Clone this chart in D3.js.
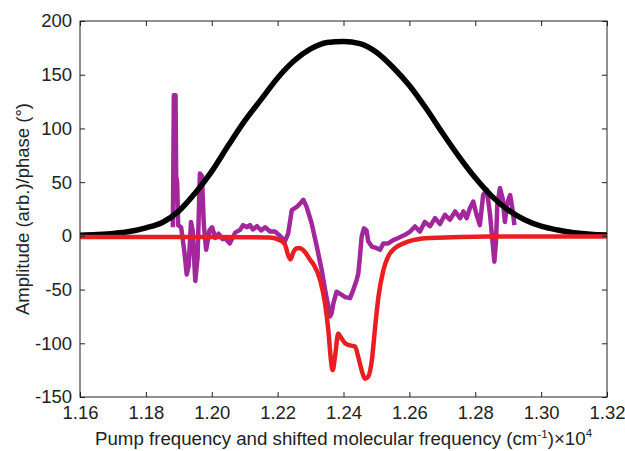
<!DOCTYPE html>
<html>
<head>
<meta charset="utf-8">
<script src="https://cdn.jsdelivr.net/npm/d3@7/dist/d3.min.js"></script>
<style>
  html, body { margin: 0; padding: 0; background: #fff; }
  svg { display: block; font-family: "Liberation Sans", Arial, Helvetica, sans-serif; }
</style>
</head>
<body>
<svg id="chart" width="625" height="451"></svg>
<script>
// ---- data ----
const xTicks = [1.16, 1.18, 1.20, 1.22, 1.24, 1.26, 1.28, 1.30, 1.32];
const yTicks = [-150, -100, -50, 0, 50, 100, 150, 200];
const xTickLabels = ["1.16", "1.18", "1.20", "1.22", "1.24", "1.26", "1.28", "1.30", "1.32"];
const yTickLabels = ["-150", "-100", "-50", "0", "50", "100", "150", "200"];

// black: pump spectrum amplitude
const blackX = [1.160,1.165,1.170,1.175,1.180,1.185,1.190,1.195,1.200,1.205,1.210,1.215,1.220,1.225,1.230,1.235,1.240,1.245,1.250,1.255,1.260,1.265,1.270,1.275,1.280,1.285,1.290,1.295,1.300,1.305,1.310,1.315,1.320];
const blackY = [0.5,1.2,2.2,4,7.5,12.5,23,40,60,84,107,127,147,163,174,180,181,179,171,157,140,119,96,74,54,37,24,15,9,5.5,3,1.5,0.8];

// purple: measured phase
const purpleX = [1.1882,1.1885,1.1890,1.1892,1.1895,1.1898,1.1907,1.1917,1.1924,1.1930,1.1937,1.1942,1.1950,1.1957,1.1964,1.1970,1.1976,1.1983,1.1993,1.2001,1.2011,1.2021,1.2033,1.2040,1.2055,1.2071,1.2086,1.2095,1.2107,1.2116,1.2125,1.2137,1.2150,1.2162,1.2177,1.2192,1.2207,1.2222,1.2232,1.2243,1.2258,1.2268,1.2278,1.2288,1.2303,1.2319,1.2334,1.2344,1.2354,1.2359,1.2364,1.2369,1.2379,1.2395,1.2405,1.2420,1.2430,1.2440,1.2445,1.2450,1.2455,1.2462,1.2470,1.2475,1.2486,1.2501,1.2511,1.2521,1.2536,1.2551,1.2566,1.2587,1.2602,1.2617,1.2632,1.2647,1.2663,1.2678,1.2693,1.2708,1.2723,1.2739,1.2754,1.2764,1.2774,1.2784,1.2794,1.2804,1.2814,1.2824,1.2835,1.2845,1.2852,1.2858,1.2863,1.2867,1.2875,1.2883,1.2890,1.2897,1.2906,1.2914,1.2919];
const purpleY = [8,131,131,55,50,10,8,-15,-36,-28,13,5,-42,-20,58,56,10,-13,5,8,-2,2,-3,-2,-7,3,5.6,10,8,10,6,9,5,8,4,4,0,-5,2,24,27,30,33.6,27,12,-10,-32,-50,-66,-75,-72,-63,-52,-55,-57,-58,-50,-41,-35,-19,-1,7,5,-5,-10,-11.5,-13,-7,-7,-4,-2,1,4,8.7,4,13,9,16.5,11,19.6,15,22.7,16.5,22.7,16.5,26,32,19.6,10,38,43,19.6,-4,-24,-5,29,44.5,35,13,30.5,38,22.7,10];

// red: calculated phase
const redX = [1.160,1.180,1.200,1.210,1.2177,1.2207,1.2222,1.2232,1.2239,1.2248,1.2259,1.2268,1.2283,1.2298,1.2310,1.2329,1.2344,1.2354,1.2362,1.2367,1.2374,1.2384,1.2391,1.2405,1.2420,1.2435,1.2445,1.2455,1.2465,1.2475,1.2486,1.2496,1.2506,1.2521,1.2536,1.2556,1.2582,1.2611,1.2663,1.2845,1.3200];
const redY = [-1,-1,-1,-1.2,-1.5,-4,-8,-18,-22,-15,-11.5,-11.5,-15,-22,-27,-41,-63,-88,-116,-125,-113,-91,-94,-100,-102,-103,-113,-125,-133,-131,-116,-85,-57,-32,-19,-11.5,-7,-4,-2,-0.5,-0.5];

// ---- layout ----
const W = 625, H = 451;
const m = { left: 80, right: 18, top: 21, bottom: 54 };
const iw = W - m.left - m.right, ih = H - m.top - m.bottom;

const svg = d3.select("#chart");
const g = svg.append("g").attr("transform", `translate(${m.left},${m.top})`);

const x = d3.scaleLinear().domain([1.16, 1.32]).range([0, iw]);
const y = d3.scaleLinear().domain([-150, 200]).range([ih, 0]);

g.append("defs").append("clipPath").attr("id", "clip")
  .append("rect").attr("width", iw).attr("height", ih);

const toPts = (xs, ys) => xs.map((v, i) => [v, ys[i]]);
const lineLin = d3.line().x(d => x(d[0])).y(d => y(d[1]));
const lineSmooth = d3.line().x(d => x(d[0])).y(d => y(d[1])).curve(d3.curveMonotoneX);

const plot = g.append("g").attr("clip-path", "url(#clip)");
plot.append("path").datum(toPts(purpleX, purpleY))
  .attr("d", lineLin).attr("fill", "none").attr("stroke", "#a1279b")
  .attr("stroke-width", 4.5).attr("stroke-linejoin", "round");
plot.append("path").datum(toPts(blackX, blackY))
  .attr("d", lineSmooth).attr("fill", "none").attr("stroke", "#000")
  .attr("stroke-width", 5.5);
plot.append("path").datum(toPts(redX, redY))
  .attr("d", lineSmooth).attr("fill", "none").attr("stroke", "#ea1d22")
  .attr("stroke-width", 4.5).attr("stroke-linejoin", "round");

// ---- axes ----
const axColor = "#222";
const xAxis = g.append("g").attr("transform", `translate(0,${ih})`)
  .call(d3.axisBottom(x).tickValues(xTicks).tickFormat((d, i) => xTickLabels[i])
    .tickSizeInner(-5).tickSizeOuter(0).tickPadding(9));
const xTop = g.append("g")
  .call(d3.axisTop(x).tickValues(xTicks).tickFormat("").tickSizeInner(-5).tickSizeOuter(0));
const yAxis = g.append("g")
  .call(d3.axisLeft(y).tickValues(yTicks).tickFormat((d, i) => yTickLabels[i])
    .tickSizeInner(-5).tickSizeOuter(0).tickPadding(8));
const yRight = g.append("g").attr("transform", `translate(${iw},0)`)
  .call(d3.axisRight(y).tickValues(yTicks).tickFormat("").tickSizeInner(-5).tickSizeOuter(0));

[xAxis, xTop, yAxis, yRight].forEach(a => {
  a.select(".domain").remove();
  a.selectAll("line").attr("stroke", axColor);
  a.selectAll("text").attr("font-size", 18.5).attr("fill", "#222")
    .attr("font-family", "Liberation Sans, Arial, sans-serif");
});

g.append("rect").attr("width", iw).attr("height", ih)
  .attr("fill", "none").attr("stroke", axColor).attr("stroke-width", 1);

// ---- titles ----
const xt = svg.append("text").attr("x", m.left + iw / 2).attr("y", 445)
  .attr("text-anchor", "middle").attr("font-size", 18.7).attr("fill", "#222");
xt.append("tspan").text("Pump frequency and shifted molecular frequency (cm");
xt.append("tspan").text("-1").attr("font-size", 11.5).attr("dy", -7);
xt.append("tspan").text(")×10").attr("dy", 7);
xt.append("tspan").text("4").attr("font-size", 11.5).attr("dy", -8);

svg.append("text")
  .attr("transform", `translate(29,${m.top + ih / 2}) rotate(-90)`)
  .attr("text-anchor", "middle").attr("font-size", 18.5).attr("fill", "#222")
  .text("Amplitude (arb.)/phase (°)");
</script>
</body>
</html>
